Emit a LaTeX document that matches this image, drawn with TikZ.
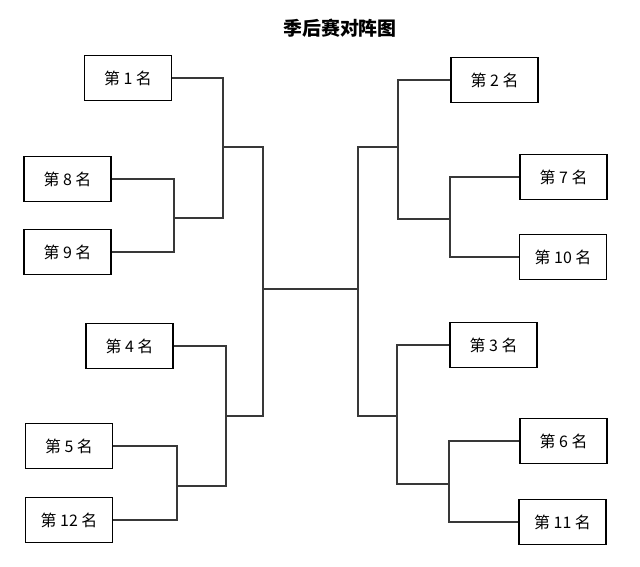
\documentclass[tikz,border=0pt]{standalone}
\usepackage{fontspec}
\setmainfont{Noto Sans CJK SC}
\usepackage{tikz}

\begin{document}
\begin{tikzpicture}[x=1bp,y=-1bp,
      seed/.style={draw,line width=1.4bp,minimum width=87bp,minimum height=45bp,
        font=\fontsize{16}{18}\selectfont,inner sep=0pt},
      link/.style={draw=black!78,line width=2bp}]
      \useasboundingbox (0,0) rectangle (640,567);
      \node[font=\fontsize{19}{21}\selectfont\bfseries] (title) at (340,28) {季后赛对阵图};
      % left half
      \node[seed] (r1)  at (128,78)  {第 1 名};
      \node[seed] (r8)  at (67.5,179) {第 8 名};
      \node[seed] (r9)  at (67.5,252) {第 9 名};
      \node[seed] (r4)  at (129.5,346) {第 4 名};
      \node[seed] (r5)  at (69,446)   {第 5 名};
      \node[seed] (r12) at (69,520)   {第 12 名};
      % right half
      \node[seed] (r2)  at (494.5,80)  {第 2 名};
      \node[seed] (r7)  at (563.5,177) {第 7 名};
      \node[seed] (r10) at (563,257)   {第 10 名};
      \node[seed] (r3)  at (493.5,345) {第 3 名};
      \node[seed] (r6)  at (563.5,441) {第 6 名};
      \node[seed] (r11) at (562.5,522) {第 11 名};
      % junctions
      \coordinate (c89)  at (174,218);
      \coordinate (c1)   at (223,147);
      \coordinate (c512) at (177,486);
      \coordinate (c4)   at (226,416);
      \coordinate (cL)   at (263,289);
      \coordinate (cR)   at (358,289);
      \coordinate (c710) at (450,219);
      \coordinate (c2)   at (398,147);
      \coordinate (c611) at (449,484);
      \coordinate (c3)   at (397,416);
      \draw[link] (r8.east) -| (c89) |- (r9.east);
      \draw[link] (r1.east) -| (c1) |- (c89);
      \draw[link] (r5.east) -| (c512) |- (r12.east);
      \draw[link] (r4.east) -| (c4) |- (c512);
      \draw[link] (c1) -| (cL) |- (c4);
      \draw[link] (cL) -- (cR);
      \draw[link] (r7.west) -| (c710) |- (r10.west);
      \draw[link] (r2.west) -| (c2) |- (c710);
      \draw[link] (r6.west) -| (c611) |- (r11.west);
      \draw[link] (r3.west) -| (c3) |- (c611);
      \draw[link] (c2) -| (cR) |- (c3);
    \end{tikzpicture}
\end{document}
